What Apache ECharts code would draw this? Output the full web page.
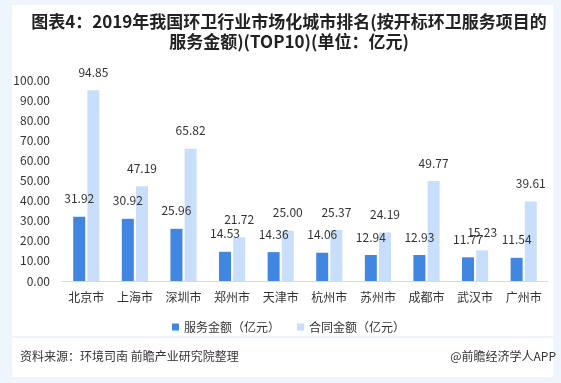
<!DOCTYPE html>
<html><head><meta charset="utf-8">
<script src="https://cdn.jsdelivr.net/npm/echarts@6/dist/echarts.min.js"></script>
<style>html,body{margin:0;padding:0;background:#eef5fd;}#c{width:561px;height:383px;}</style>
</head><body><div id="c"></div>
<script>
var categories = ['北京市','上海市','深圳市','郑州市','天津市','杭州市','苏州市','成都市','武汉市','广州市'];
var serviceAmount = [31.92,30.92,25.96,14.53,14.36,14.06,12.94,12.93,11.77,11.54];
var contractAmount = [94.85,47.19,65.82,21.72,25.00,25.37,24.19,49.77,15.23,39.61];
var seriesNames = ['服务金额（亿元）','合同金额（亿元）'];
var titleLine1 = '图表4：2019年我国环卫行业市场化城市排名(按开标环卫服务项目的';
var titleLine2 = '服务金额)(TOP10)(单位：亿元)';
var sourceText = '资料来源：环境司南 前瞻产业研究院整理';
var brandText = '@前瞻经济学人APP';

var font = '"Noto Sans CJK SC", "Microsoft YaHei", sans-serif';
var chart = echarts.init(document.getElementById('c'), null, {renderer:'canvas'});
chart.setOption({
  backgroundColor: '#eef5fd',
  textStyle: {fontFamily: font},
  graphic: [
    {type:'rect', shape:{x:12,y:5,width:541,height:331}, style:{fill:'#ffffff'}, z:-10},
    {type:'rect', shape:{x:12,y:338,width:541,height:39}, style:{fill:'#ffffff'}, z:-10},
    {type:'text', x:289, y:22, style:{text:titleLine1, font:'bold 17px '+font, fill:'#222222', textAlign:'center', textVerticalAlign:'middle'}},
    {type:'text', x:289, y:42, style:{text:titleLine2, font:'bold 17px '+font, fill:'#222222', textAlign:'center', textVerticalAlign:'middle'}},
    {type:'text', x:20, y:356, style:{text:sourceText, font:'12px '+font, fill:'#333333', textVerticalAlign:'middle'}},
    {type:'text', x:556, y:356, style:{text:brandText, font:'12px '+font, fill:'#333333', textAlign:'right', textVerticalAlign:'middle'}}
  ],
  legend: {
    data: seriesNames, top: 316, left: 167, itemWidth: 7, itemHeight: 7, itemGap: 17,
    icon: 'rect', textStyle: {fontSize: 12, color: '#333333', fontFamily: font}
  },
  grid: {left: 62, right: 13, top: 80, bottom: 102},
  xAxis: {
    type: 'category', data: categories,
    axisLine: {lineStyle: {color: '#d9d9d9'}}, axisTick: {show: false},
    axisLabel: {fontSize: 12, color: '#333333', margin: 10, fontFamily: font}
  },
  yAxis: {
    type: 'value', min: 0, max: 100, interval: 10,
    axisLine: {show: false}, axisTick: {show: false}, splitLine: {show: false},
    axisLabel: {fontSize: 12, color: '#333333', margin: 12, formatter: function(v){return v.toFixed(2);}}
  },
  series: [
    {name: seriesNames[0], type: 'bar', data: serviceAmount, barWidth: 12, barGap: '18%',
     itemStyle: {color: '#4186e0'},
     label: {show: true, position: 'top', distance: 12, color: '#333333', fontSize: 12, formatter: function(p){return p.value.toFixed(2);}}},
    {name: seriesNames[1], type: 'bar', data: contractAmount, barWidth: 12,
     itemStyle: {color: '#c9defa'},
     label: {show: true, position: 'top', distance: 12, color: '#333333', fontSize: 12, formatter: function(p){return p.value.toFixed(2);}}}
  ]
});
</script></body></html>
